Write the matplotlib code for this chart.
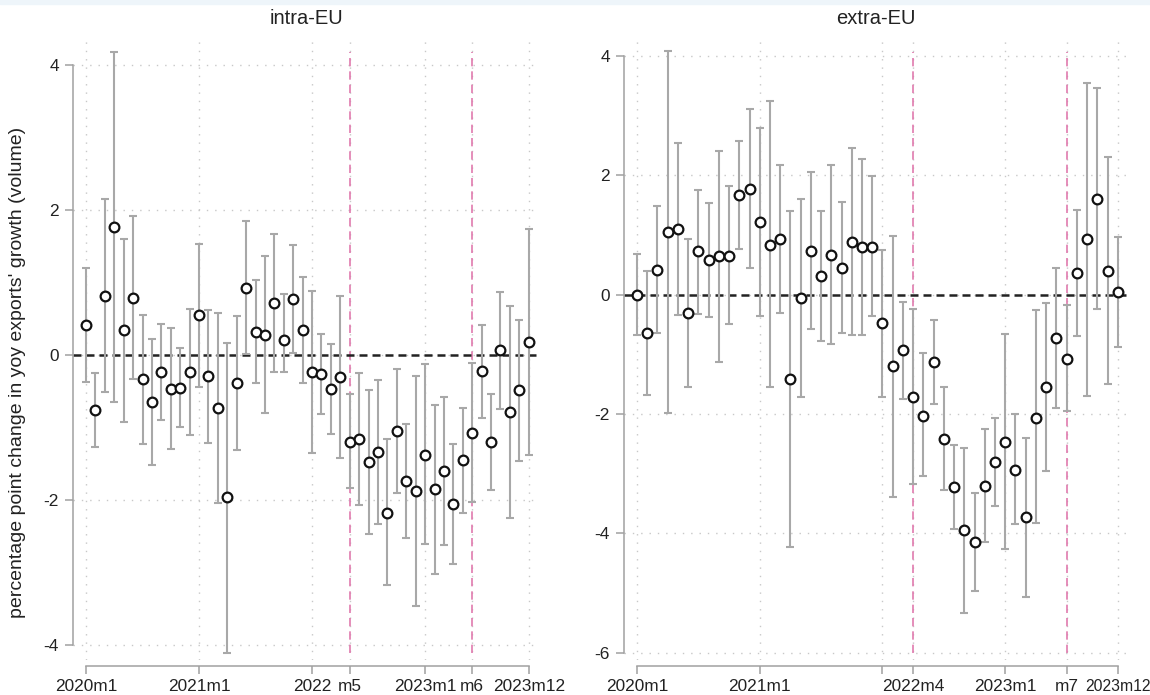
import numpy as np
import matplotlib
matplotlib.use("Agg")
import matplotlib.pyplot as plt
from matplotlib.patches import Rectangle

plt.rcParams['font.family'] = ['Liberation Sans', 'DejaVu Sans']

# months 2020m1 .. 2023m12
n_months = 48

# intra-EU: point estimate and confidence interval
intra_est = [0.42, -0.76, 0.82, 1.77, 0.34, 0.79, -0.33, -0.64, -0.23, -0.46,
             -0.45, -0.23, 0.55, -0.29, -0.73, -1.96, -0.38, 0.93, 0.32, 0.28,
             0.72, 0.21, 0.77, 0.34, -0.23, -0.26, -0.47, -0.30, -1.20, -1.15,
             -1.47, -1.34, -2.17, -1.05, -1.74, -1.87, -1.37, -1.85, -1.60, -2.05,
             -1.45, -1.07, -0.22, -1.20, 0.07, -0.78, -0.48, 0.18]
intra_hi = [1.20, -0.25, 2.15, 4.18, 1.60, 1.92, 0.55, 0.22, 0.43, 0.38,
            0.10, 0.64, 1.53, 0.62, 0.58, 0.17, 0.54, 1.85, 1.03, 1.37,
            1.67, 0.84, 1.52, 1.08, 0.88, 0.29, 0.15, 0.81, -0.54, -0.24,
            -0.48, -0.34, -1.16, -0.19, -0.95, -0.29, -0.12, -0.68, -0.57, -1.22,
            -0.73, -0.11, 0.41, -0.53, 0.87, 0.68, 0.49, 1.74]
intra_lo = [-0.37, -1.27, -0.51, -0.65, -0.92, -0.33, -1.22, -1.52, -0.89, -1.29,
            -0.99, -1.10, -0.44, -1.21, -2.04, -4.10, -1.30, 0.01, -0.38, -0.80,
            -0.23, -0.23, 0.03, -0.38, -1.35, -0.81, -1.09, -1.41, -1.83, -2.06,
            -2.47, -2.33, -3.17, -1.90, -2.52, -3.45, -2.60, -3.02, -2.62, -2.88,
            -2.17, -2.02, -0.86, -1.86, -0.74, -2.24, -1.46, -1.37]

# extra-EU
extra_est = [0.00, -0.64, 0.41, 1.05, 1.10, -0.30, 0.73, 0.58, 0.64, 0.65,
             1.67, 1.77, 1.22, 0.84, 0.93, -1.41, -0.06, 0.74, 0.31, 0.66,
             0.45, 0.88, 0.80, 0.80, -0.48, -1.19, -0.93, -1.71, -2.04, -1.12,
             -2.41, -3.22, -3.95, -4.15, -3.20, -2.81, -2.47, -2.94, -3.73, -2.06,
             -1.55, -0.73, -1.07, 0.36, 0.93, 1.61, 0.40, 0.04]
extra_hi = [0.68, 0.39, 1.48, 4.08, 2.54, 0.94, 1.76, 1.53, 2.40, 1.82,
            2.57, 3.11, 2.80, 3.24, 2.17, 1.41, 1.60, 2.06, 1.41, 2.17,
            1.56, 2.45, 2.28, 1.98, 0.75, 0.99, -0.12, -0.24, -0.97, -0.42,
            -1.55, -2.51, -2.57, -3.33, -2.25, -2.07, -0.66, -2.00, -2.40, -0.25,
            -0.14, 0.45, -0.17, 1.42, 3.55, 3.47, 2.30, 0.97]
extra_lo = [-0.68, -1.68, -0.65, -1.98, -0.34, -1.54, -0.32, -0.38, -1.12, -0.49,
            0.77, 0.44, -0.36, -1.54, -0.31, -4.22, -1.71, -0.57, -0.77, -0.82,
            -0.65, -0.67, -0.68, -0.35, -1.71, -3.39, -1.75, -3.17, -3.03, -1.83,
            -3.27, -3.93, -5.33, -4.96, -4.15, -3.54, -4.26, -3.85, -5.06, -3.83,
            -2.96, -1.90, -1.95, -0.70, -1.69, -0.24, -1.49, -0.88]

# ticks (month index) and labels
intra_ticks = [0, 12, 24, 28, 36, 41, 47]
intra_labels = ["2020m1", "2021m1", "2022", "m5", "2023m1", "m6", "2023m12"]
intra_vlines = [28, 41]
extra_ticks = [0, 12, 24, 27, 36, 42, 47]
extra_labels = ["2020m1", "2021m1", "", "2022m4", "2023m1", "m7", "2023m12"]
extra_vlines = [27, 42]

grey = '#a8a8a8'
axcol = '#a0a0a0'
pink = '#e07aae'


def panel(ax, est, lo, hi, ticks, labels, vlines, yticks, xlim, ylim, title):
    x = np.arange(n_months)
    est = np.array(est)
    yerr = [est - np.array(lo), np.array(hi) - est]
    for t in yticks:
        ax.axhline(t, color='#c8c8c8', lw=1, ls=(0, (1, 5)), zorder=0)
    for t in ticks:
        ax.axvline(t, color='#c8c8c8', lw=1, ls=(0, (1, 5)), zorder=0)
    for v in vlines:
        ax.axvline(v, ymin=0.011, ymax=0.977, color=pink, lw=1.2,
                   ls=(0, (5, 3)), zorder=1)
    ax.axhline(0, color='#222222', lw=1.8, ls=(0, (3.2, 2)), zorder=2)
    ax.errorbar(x, est, yerr=yerr, fmt='none', ecolor=grey, elinewidth=1.5,
                capsize=2.6, capthick=1.5, zorder=3)
    ax.plot(x, est, ls='none', marker='o', ms=7, mfc='white', mec='#111111',
            mew=1.6, zorder=4)
    ax.set_xlim(*xlim)
    ax.set_ylim(*ylim)
    ax.set_xticks(ticks)
    ax.set_xticklabels(labels)
    ax.set_yticks(yticks)
    ax.set_yticklabels([str(t) for t in yticks])
    for s in ['top', 'right']:
        ax.spines[s].set_visible(False)
    ax.spines['left'].set_bounds(yticks[0], yticks[-1])
    ax.spines['bottom'].set_bounds(ticks[0], ticks[-1])
    ax.spines['bottom'].set_position(('outward', 4))
    for s in ['left', 'bottom']:
        ax.spines[s].set_color(axcol)
        ax.spines[s].set_linewidth(1.1)
    ax.tick_params(axis='both', colors=axcol, length=6, width=1.1,
                   labelcolor='#222222', labelsize=12.4, pad=4)
    ax.set_title(title, fontsize=14.5, color='#222222', pad=10)


fig = plt.figure(figsize=(11.5, 6.95), dpi=100)
fig.patches.append(Rectangle((0, 1 - 4 / 695), 1, 4 / 695,
                             transform=fig.transFigure, color='#eef5fa'))

ax1 = fig.add_axes([73 / 1150, 1 - 660 / 695, 467 / 1150, 622 / 695])
ax2 = fig.add_axes([624 / 1150, 1 - 660 / 695, 504 / 1150, 622 / 695])

panel(ax1, intra_est, intra_lo, intra_hi, intra_ticks, intra_labels,
      intra_vlines, [-4, -2, 0, 2, 4], (-1.38, 48.2), (-4.2, 4.37), "intra-EU")
panel(ax2, extra_est, extra_lo, extra_hi, extra_ticks, extra_labels,
      extra_vlines, [-6, -4, -2, 0, 2, 4], (-1.27, 48.0), (-6.12, 4.30), "extra-EU")

# last label of the right panel sits against the figure edge
ax2.get_xticklabels()[-1].set_fontsize(11.3)

fig.text(18 / 1150, 1 - 372 / 695,
         "percentage point change in yoy exports' growth (volume)",
         rotation=90, va='center', ha='center', fontsize=14, color='#222222')

fig.savefig("out.png", dpi=100)
